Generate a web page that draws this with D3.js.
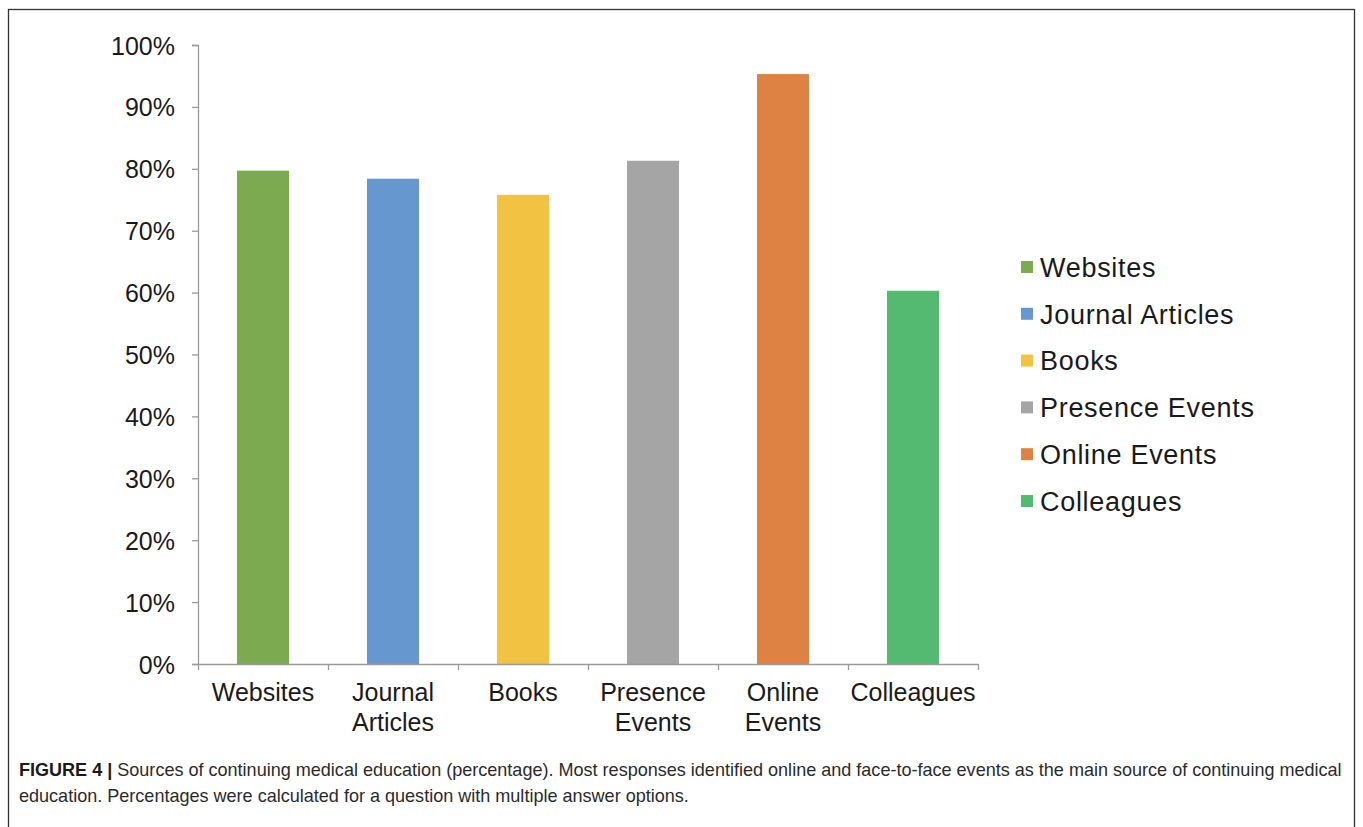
<!DOCTYPE html>
<html>
<head>
<meta charset="utf-8">
<script src="https://cdn.jsdelivr.net/npm/d3@7"></script>
<style>
  body { margin: 0; background: #fff; }
  svg { display: block; font-family: "Liberation Sans", Arial, sans-serif; }
</style>
</head>
<body>
<div class="container"></div>
<script>
// chart data
var categories = ["Websites", "Journal Articles", "Books", "Presence Events", "Online Events", "Colleagues"];
var axisLabels = [["Websites"], ["Journal", "Articles"], ["Books"], ["Presence", "Events"], ["Online", "Events"], ["Colleagues"]];
var shares = [0.797, 0.784, 0.758, 0.813, 0.953, 0.603];
var barColors = ["#7BAA50", "#6797CF", "#F2C242", "#A5A5A5", "#DE8243", "#54BA72"];
var yTicks = [0, 0.1, 0.2, 0.3, 0.4, 0.5, 0.6, 0.7, 0.8, 0.9, 1];
var captionBold = "FIGURE 4 | ";
var captionLines = [
    "Sources of continuing medical education (percentage). Most responses identified online and face-to-face events as the main source of continuing medical",
    "education. Percentages were calculated for a question with multiple answer options."
];

var WIDTH = 1363, HEIGHT = 827;
var PLOT = {left: 198, right: 978, top: 45, bottom: 664};

var svg = d3.select(".container")
    .append("svg")
    .attr("width", WIDTH)
    .attr("height", HEIGHT);

// outer frame
svg.append("rect")
    .attr("x", 8.5)
    .attr("y", 9.5)
    .attr("width", 1346)
    .attr("height", 840)
    .attr("fill", "none")
    .attr("stroke", "#333")
    .attr("stroke-width", 1.3);

var x = d3.scaleBand()
    .domain(categories)
    .range([PLOT.left, PLOT.right])
    .paddingInner(0.6)
    .paddingOuter(0.3);

var y = d3.scaleLinear()
    .domain([0, 1])
    .range([PLOT.bottom, PLOT.top]);

// bars
svg.append("g")
    .selectAll("rect")
    .data(categories)
    .enter()
    .append("rect")
    .attr("x", d => x(d))
    .attr("y", (d, i) => y(shares[i]))
    .attr("width", x.bandwidth())
    .attr("height", (d, i) => y(0) - y(shares[i]))
    .attr("fill", (d, i) => barColors[i]);

// y axis
var yAxis = svg.append("g")
    .attr("transform", `translate(${PLOT.left}, 0)`)
    .call(d3.axisLeft(y).tickValues(yTicks).tickFormat(d3.format(".0%")).tickSize(6).tickPadding(17));
yAxis.select(".domain").attr("stroke", "#9a9a9a").attr("stroke-width", 1.3);
yAxis.selectAll(".tick line").attr("stroke", "#9a9a9a").attr("stroke-width", 1.3);
yAxis.selectAll(".tick text")
    .attr("fill", "#1a1a1a")
    .style("font-size", "25px")
    .attr("dy", "0.36em");

// x axis: ticks sit on category boundaries
var boundary = d3.scaleLinear()
    .domain([0, categories.length])
    .range([PLOT.left, PLOT.right]);
var xAxis = svg.append("g")
    .attr("transform", `translate(0, ${PLOT.bottom})`)
    .call(d3.axisBottom(boundary).tickValues(d3.range(categories.length + 1)).tickFormat("").tickSize(6).tickSizeOuter(0));
xAxis.select(".domain").attr("stroke", "#9a9a9a").attr("stroke-width", 1.3);
xAxis.selectAll(".tick line").attr("stroke", "#9a9a9a").attr("stroke-width", 1.3);

svg.append("g")
    .selectAll("text")
    .data(categories)
    .enter()
    .append("text")
    .attr("x", d => x(d) + x.bandwidth() / 2)
    .attr("y", 701)
    .attr("text-anchor", "middle")
    .attr("fill", "#1a1a1a")
    .style("font-size", "25px")
    .each(function (d, i) {
        d3.select(this)
            .selectAll("tspan")
            .data(axisLabels[i])
            .enter()
            .append("tspan")
            .attr("x", x(d) + x.bandwidth() / 2)
            .attr("dy", (t, j) => j === 0 ? 0 : 30)
            .text(t => t);
    });

// legend
var legend = svg.append("g")
    .attr("transform", "translate(1021, 267)");

var legendRow = legend.selectAll("g")
    .data(categories)
    .enter()
    .append("g")
    .attr("transform", (d, i) => `translate(0, ${i * 46.8})`);

legendRow.append("rect")
    .attr("x", 0)
    .attr("y", -6)
    .attr("width", 12)
    .attr("height", 12)
    .attr("fill", (d, i) => barColors[i]);

legendRow.append("text")
    .attr("x", 19)
    .attr("y", 0)
    .attr("dy", "0.36em")
    .attr("fill", "#1a1a1a")
    .style("font-size", "27px")
    .style("letter-spacing", "0.7px")
    .text(d => d);

// caption
var caption = svg.append("g")
    .attr("fill", "#2b2b2b")
    .style("font-size", "19px");

var line1 = caption.append("text")
    .attr("x", 0)
    .attr("y", 776);
line1.append("tspan").style("font-weight", "bold").attr("fill", "#1a1a1a").text(captionBold);
line1.append("tspan").text(captionLines[0]);

caption.append("text")
    .attr("x", 0)
    .attr("y", 802)
    .text(captionLines[1]);

// squeeze the caption so its first line spans the box like the figure
var k = 1324 / line1.node().getComputedTextLength();
caption.attr("transform", `translate(19, 0) scale(${k}, 1)`);
</script>
</body>
</html>
